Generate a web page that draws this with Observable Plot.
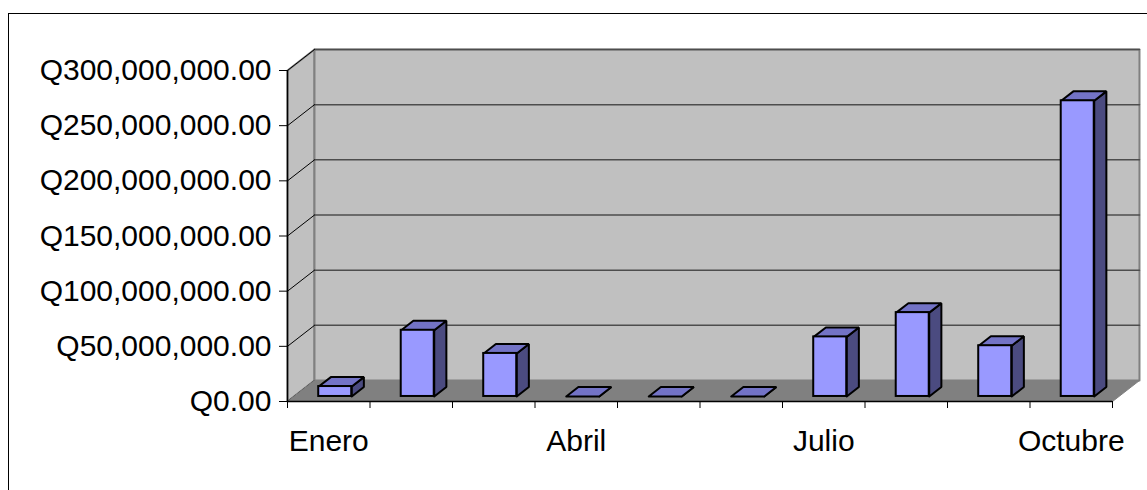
<!DOCTYPE html>
<html>
<head>
<meta charset="utf-8">
<script src="https://cdn.jsdelivr.net/npm/d3@7"></script>
<script src="https://cdn.jsdelivr.net/npm/@observablehq/plot@0.6"></script>
<style>
  body { margin: 0; background: #fff; }
  #chart { position: relative; width: 1147px; height: 490px; overflow: hidden; }
  #chart .border { position: absolute; left: 8px; top: 13px; width: 1300px; height: 700px; border: 1px solid #000; }
  #chart svg { position: absolute; left: 0; top: 0; }
</style>
</head>
<body>
<div id="chart"><div class="border"></div></div>
<script>
// Monthly amounts (quetzales)
const months = ["Enero", "Febrero", "Marzo", "Abril", "Mayo", "Junio", "Julio", "Agosto", "Septiembre", "Octubre"];
const amounts = [9e6, 60e6, 39e6, 0, 0, 0, 54e6, 76e6, 46e6, 268e6];
const yTicks = [0, 50e6, 100e6, 150e6, 200e6, 250e6, 300e6];
const labeledMonths = ["Enero", "Abril", "Julio", "Octubre"];

// Oblique projection: depth fraction d shifts a point right and up
const DEPTH_X = 0.327;     // in category widths
const DEPTH_Y = 19.0e6;    // in value units
const Y_MAX = 300e6;
const BAR_X0 = 0.3, BAR_X1 = 0.7;   // bar span inside its category
const BAR_D0 = 0.24, BAR_D1 = 0.69; // bar span in depth
const P = (x, y, d) => ({x: x + d * DEPTH_X, y: y + d * DEPTH_Y});

const poly = (id, pts) => [...pts, pts[0]].map(p => ({...p, id}));

const n = months.length;
const leftWall = poly("left", [P(0, 0, 0), P(0, Y_MAX, 0), P(0, Y_MAX, 1), P(0, 0, 1)]);
const backWall = poly("back", [P(0, 0, 1), P(0, Y_MAX, 1), P(n, Y_MAX, 1), P(n, 0, 1)]);
const floor = poly("floor", [P(0, 0, 0), P(n, 0, 0), P(n, 0, 1), P(0, 0, 1)]);

const gridBack = yTicks.filter(v => v > 0).flatMap(v => [{...P(0, v, 1), id: v}, {...P(n, v, 1), id: v}]);
const gridLeft = yTicks.flatMap(v => [{...P(0, v, 0), id: v}, {...P(0, v, 1), id: v}]);

const tops = amounts.flatMap((v, i) => poly("t" + i, [
  P(i + BAR_X0, v, BAR_D0), P(i + BAR_X1, v, BAR_D0), P(i + BAR_X1, v, BAR_D1), P(i + BAR_X0, v, BAR_D1)
]));
const sides = amounts.flatMap((v, i) => poly("s" + i, [
  P(i + BAR_X1, 0, BAR_D0), P(i + BAR_X1, v, BAR_D0), P(i + BAR_X1, v, BAR_D1), P(i + BAR_X1, 0, BAR_D1)
]));
const fronts = amounts.map((v, i) => {
  const a = P(i + BAR_X0, 0, BAR_D0), b = P(i + BAR_X1, v, BAR_D0);
  return {month: months[i], x1: a.x, x2: b.x, y1: a.y, y2: b.y};
});

const money = d => "Q" + d3.format(",.2f")(d);

const chart = Plot.plot({
  width: 1147,
  height: 490,
  marginLeft: 287,
  marginRight: 35,
  marginTop: 70,
  marginBottom: 89,
  style: {fontFamily: "'Liberation Sans', Arial, sans-serif", fontSize: "30px", color: "#000", background: "transparent"},
  x: {type: "linear", domain: [0, n]},
  y: {type: "linear", domain: [0, Y_MAX]},
  marks: [
    Plot.line(leftWall, {x: "x", y: "y", z: "id", fill: "#c0c0c0", stroke: "#808080", strokeWidth: 2}),
    Plot.line(backWall, {x: "x", y: "y", z: "id", fill: "#c0c0c0", stroke: "#808080", strokeWidth: 2}),
    Plot.line(gridBack, {x: "x", y: "y", z: "id", stroke: "#4d4d4d", strokeWidth: 1.5}),
    Plot.line(gridLeft, {x: "x", y: "y", z: "id", stroke: "#000", strokeWidth: 1}),
    Plot.line(floor, {x: "x", y: "y", z: "id", fill: "#808080", stroke: "#808080", strokeWidth: 1}),
    Plot.ruleX([0], {y1: 0, y2: Y_MAX, stroke: "#000", strokeWidth: 1.5}),
    Plot.ruleY([0], {x1: 0, x2: n, stroke: "#000", strokeWidth: 1.5}),
    Plot.axisY({ticks: yTicks, tickFormat: money, tickSize: 8, tickPadding: 8, fontSize: 30, label: null, stroke: "#000"}),
    Plot.axisX({ticks: d3.range(0, n + 1), tickSize: 7, tickFormat: () => "", label: null, stroke: "#000"}),
    Plot.axisX({ticks: labeledMonths.map(m => months.indexOf(m) + 0.5), tickSize: 0, tickPadding: 28,
      tickFormat: t => months[t - 0.5], fontSize: 30, label: null}),
    Plot.line(sides, {x: "x", y: "y", z: "id", fill: "#4b4b80", stroke: "#000", strokeWidth: 2, strokeLinejoin: "miter"}),
    Plot.line(tops, {x: "x", y: "y", z: "id", fill: "#7373c6", stroke: "#000", strokeWidth: 2, strokeLinejoin: "miter"}),
    Plot.rect(fronts, {x1: "x1", x2: "x2", y1: "y1", y2: "y2", fill: "#9999ff", stroke: "#000", strokeWidth: 2})
  ]
});
document.getElementById("chart").appendChild(chart);
</script>
</body>
</html>
